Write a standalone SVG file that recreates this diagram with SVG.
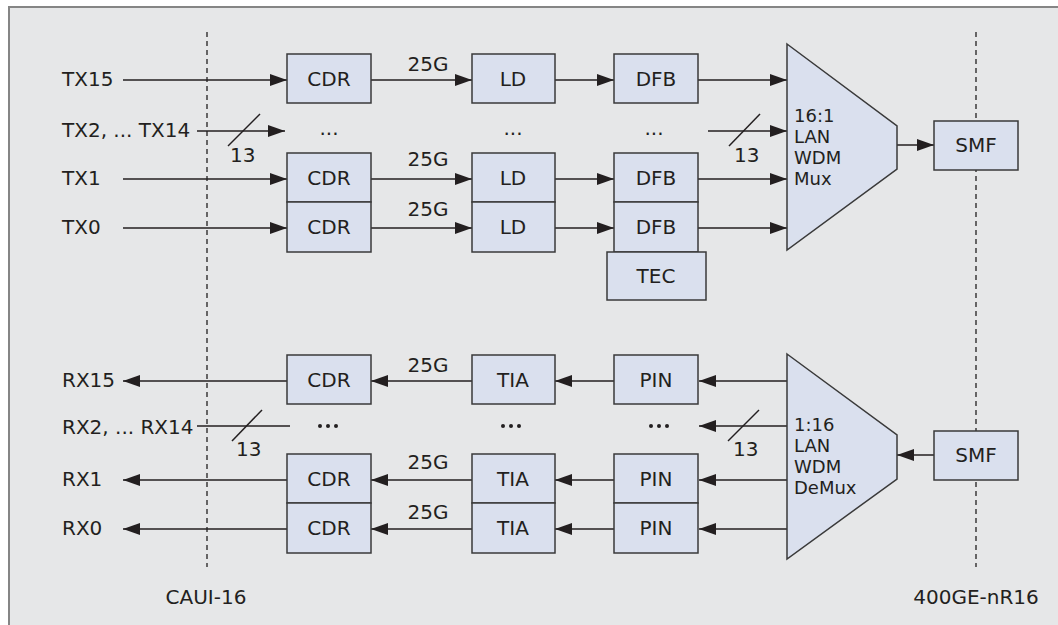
<svg xmlns="http://www.w3.org/2000/svg" width="1058" height="625" viewBox="0 0 1058 625">
<defs>
<marker id="ah" viewBox="0 0 17 12" refX="17" refY="6" markerWidth="17" markerHeight="12" markerUnits="userSpaceOnUse" orient="auto">
<path d="M0,0 L17,6 L0,12 Z" fill="#231f20"/>
</marker>
<style>
.bx{fill:#dae0ee;stroke:#3a3a3a;stroke-width:1.5}
.t{font-family:"DejaVu Sans","Liberation Sans",sans-serif;font-size:20px;fill:#231f20}
.m{font-size:18px}
.tc{text-anchor:middle}
.ln{stroke:#231f20;stroke-width:1.5;fill:none}
.ar{stroke:#231f20;stroke-width:1.5;fill:none;marker-end:url(#ah)}
.ds{stroke:#231f20;stroke-width:1.3;stroke-dasharray:5,4;fill:none}
.dot{fill:#231f20}
</style>
</defs>
<rect x="9" y="7" width="1060" height="630" fill="#e6e7e8" stroke="#858585" stroke-width="2"/>

<g id="dividers">
<line class="ds" x1="207" y1="32" x2="207" y2="567"/>
<line class="ds" x1="976" y1="32" x2="976" y2="567"/>
</g>

<g id="connectors">
<line class="ar" x1="123" y1="80" x2="287" y2="80"/>
<line class="ar" x1="197" y1="131" x2="285" y2="131"/>
<line class="ar" x1="123" y1="179" x2="287" y2="179"/>
<line class="ar" x1="123" y1="228" x2="287" y2="228"/>
<line class="ln" x1="228" y1="146" x2="260" y2="114"/>
<line class="ar" x1="371" y1="80" x2="472" y2="80"/>
<line class="ar" x1="371" y1="179" x2="472" y2="179"/>
<line class="ar" x1="371" y1="228" x2="472" y2="228"/>
<line class="ar" x1="555" y1="80" x2="614" y2="80"/>
<line class="ar" x1="555" y1="179" x2="614" y2="179"/>
<line class="ar" x1="555" y1="228" x2="614" y2="228"/>
<line class="ar" x1="698" y1="80" x2="787" y2="80"/>
<line class="ar" x1="708" y1="131" x2="787" y2="131"/>
<line class="ar" x1="698" y1="179" x2="787" y2="179"/>
<line class="ar" x1="698" y1="228" x2="787" y2="228"/>
<line class="ln" x1="729" y1="146" x2="760" y2="114"/>
<line class="ar" x1="897" y1="145" x2="934" y2="145"/>
<line class="ar" x1="934" y1="455" x2="897" y2="455"/>
<line class="ar" x1="787" y1="381" x2="699" y2="381"/>
<line class="ar" x1="787" y1="426" x2="699" y2="426"/>
<line class="ar" x1="787" y1="480" x2="699" y2="480"/>
<line class="ar" x1="787" y1="529" x2="699" y2="529"/>
<line class="ln" x1="728" y1="441" x2="759" y2="410"/>
<line class="ar" x1="614" y1="381" x2="555" y2="381"/>
<line class="ar" x1="614" y1="480" x2="555" y2="480"/>
<line class="ar" x1="614" y1="529" x2="555" y2="529"/>
<line class="ar" x1="472" y1="381" x2="371" y2="381"/>
<line class="ar" x1="472" y1="480" x2="371" y2="480"/>
<line class="ar" x1="472" y1="529" x2="371" y2="529"/>
<line class="ar" x1="287" y1="381" x2="123" y2="381"/>
<line class="ln" x1="197" y1="426" x2="290" y2="426"/>
<line class="ar" x1="287" y1="480" x2="123" y2="480"/>
<line class="ar" x1="287" y1="529" x2="123" y2="529"/>
<line class="ln" x1="232" y1="441" x2="262" y2="410"/>
</g>

<g id="labels">
<text class="t" x="62" y="86">TX15</text>
<text class="t" x="62" y="137">TX2, ... TX14</text>
<text class="t" x="62" y="185">TX1</text>
<text class="t" x="62" y="234">TX0</text>
<text class="t" x="230" y="162">13</text>
<text class="t" x="734" y="162">13</text>
<text class="t tc" x="428" y="71">25G</text>
<text class="t tc" x="428" y="166">25G</text>
<text class="t tc" x="428" y="216">25G</text>
<text class="t" x="62" y="387">RX15</text>
<text class="t" x="62" y="434">RX2, ... RX14</text>
<text class="t" x="62" y="486">RX1</text>
<text class="t" x="62" y="535">RX0</text>
<text class="t" x="236" y="456">13</text>
<text class="t" x="733" y="456">13</text>
<text class="t tc" x="428" y="372">25G</text>
<text class="t tc" x="428" y="469">25G</text>
<text class="t tc" x="428" y="519">25G</text>
<text class="t tc" x="206" y="604">CAUI-16</text>
<text class="t tc" x="976" y="604">400GE-nR16</text>
<text class="t tc" x="329" y="135">...</text>
<text class="t tc" x="513" y="135">...</text>
<text class="t tc" x="654" y="135">...</text>
<g class="dot">
<circle cx="320" cy="426" r="2"/><circle cx="328" cy="426" r="2"/><circle cx="336" cy="426" r="2"/>
<circle cx="503" cy="426" r="2"/><circle cx="511" cy="426" r="2"/><circle cx="519" cy="426" r="2"/>
<circle cx="651" cy="426" r="2"/><circle cx="659" cy="426" r="2"/><circle cx="667" cy="426" r="2"/>
</g>
</g>

<g id="tx-cdr15"><rect class="bx" x="287" y="54" width="84" height="49"/><text class="t tc" x="329" y="86">CDR</text></g>
<g id="tx-cdr1"><rect class="bx" x="287" y="153" width="84" height="49"/><text class="t tc" x="329" y="185">CDR</text></g>
<g id="tx-cdr0"><rect class="bx" x="287" y="202" width="84" height="50"/><text class="t tc" x="329" y="234">CDR</text></g>
<g id="tx-ld15"><rect class="bx" x="472" y="54" width="83" height="49"/><text class="t tc" x="513" y="86">LD</text></g>
<g id="tx-ld1"><rect class="bx" x="472" y="153" width="83" height="49"/><text class="t tc" x="513" y="185">LD</text></g>
<g id="tx-ld0"><rect class="bx" x="472" y="202" width="83" height="50"/><text class="t tc" x="513" y="234">LD</text></g>
<g id="tx-dfb15"><rect class="bx" x="614" y="54" width="84" height="49"/><text class="t tc" x="656" y="86">DFB</text></g>
<g id="tx-dfb1"><rect class="bx" x="614" y="153" width="84" height="49"/><text class="t tc" x="656" y="185">DFB</text></g>
<g id="tx-dfb0"><rect class="bx" x="614" y="202" width="84" height="50"/><text class="t tc" x="656" y="234">DFB</text></g>
<g id="tec"><rect class="bx" x="607" y="252" width="99" height="48"/><text class="t tc" x="656" y="283">TEC</text></g>
<g id="mux"><path class="bx" d="M787,44 L897,126 L897,169 L787,250 Z"/>
<text class="t m" x="794" y="122">16:1</text><text class="t m" x="794" y="143">LAN</text><text class="t m" x="794" y="164">WDM</text><text class="t m" x="794" y="185">Mux</text></g>
<g id="tx-smf"><rect class="bx" x="934" y="121" width="84" height="49"/><text class="t tc" x="976" y="152">SMF</text></g>

<g id="rx-cdr15"><rect class="bx" x="287" y="355" width="84" height="49"/><text class="t tc" x="329" y="387">CDR</text></g>
<g id="rx-cdr1"><rect class="bx" x="287" y="454" width="84" height="49"/><text class="t tc" x="329" y="486">CDR</text></g>
<g id="rx-cdr0"><rect class="bx" x="287" y="503" width="84" height="50"/><text class="t tc" x="329" y="535">CDR</text></g>
<g id="rx-tia15"><rect class="bx" x="472" y="355" width="83" height="49"/><text class="t tc" x="513" y="387">TIA</text></g>
<g id="rx-tia1"><rect class="bx" x="472" y="454" width="83" height="49"/><text class="t tc" x="513" y="486">TIA</text></g>
<g id="rx-tia0"><rect class="bx" x="472" y="503" width="83" height="50"/><text class="t tc" x="513" y="535">TIA</text></g>
<g id="rx-pin15"><rect class="bx" x="614" y="355" width="84" height="49"/><text class="t tc" x="656" y="387">PIN</text></g>
<g id="rx-pin1"><rect class="bx" x="614" y="454" width="84" height="49"/><text class="t tc" x="656" y="486">PIN</text></g>
<g id="rx-pin0"><rect class="bx" x="614" y="503" width="84" height="50"/><text class="t tc" x="656" y="535">PIN</text></g>
<g id="demux"><path class="bx" d="M787,354 L897,435 L897,479 L787,559 Z"/>
<text class="t m" x="794" y="431">1:16</text><text class="t m" x="794" y="452">LAN</text><text class="t m" x="794" y="473">WDM</text><text class="t m" x="794" y="494">DeMux</text></g>
<g id="rx-smf"><rect class="bx" x="934" y="431" width="84" height="49"/><text class="t tc" x="976" y="462">SMF</text></g>
</svg>
